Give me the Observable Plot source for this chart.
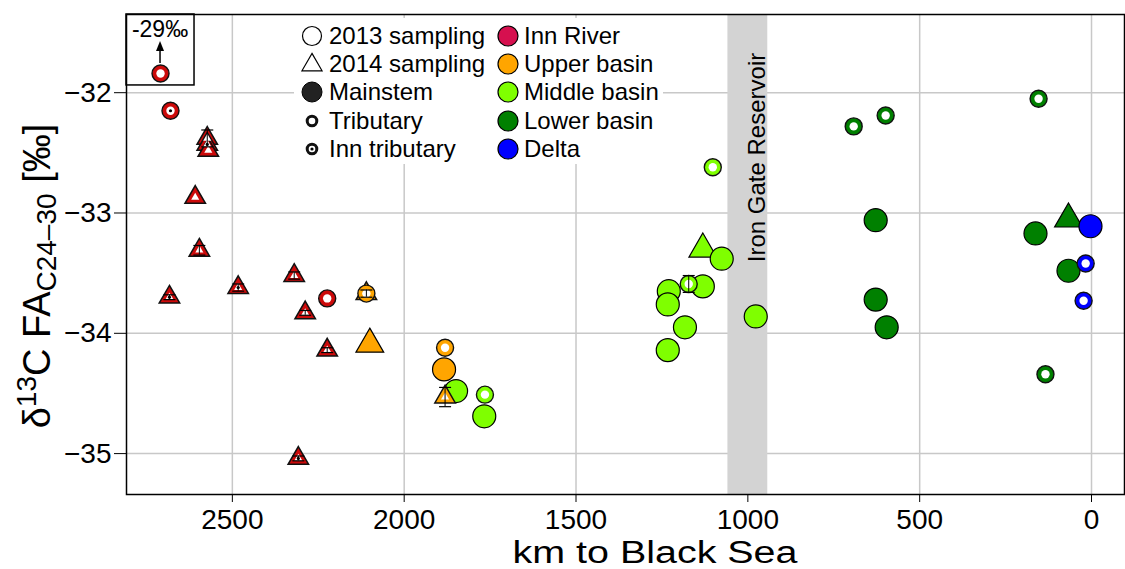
<!DOCTYPE html>
<html><head><meta charset="utf-8">
<script src="https://cdn.jsdelivr.net/npm/d3@7"></script>
<script src="https://cdn.jsdelivr.net/npm/@observablehq/plot@0.6"></script>
<style>html,body{margin:0;padding:0;background:#fff;} #chart{width:1125px;height:569px;}</style>
</head><body><div id="chart"></div>
<script>
// ---- data ----
const regions = ["Inn River","Upper basin","Middle basin","Lower basin","Delta"];
const regionColors = ["#CC0A0A","#FFA500","#7FFF00","#008000","#0000FF"];
const legendColors = ["#D6104F","#FFA500","#7FFF00","#008000","#0000FF"];
const xTicks = [2500,2000,1500,1000,500,0];
const yTicks = [-32,-33,-34,-35];
const ironGate = [942,1058];
const ironGateLabel = "Iron Gate Reservoir";
const outlierLabel = "-29‰"; // first point is an off-scale value (−29 ‰), shown in the inset

const km    = [2709,2680,2573,2573,2570,2608,2596,2683,2483,2320,2288,2224,2224,2308,
               2110,2110,2100,1881,1884,1881,
               1849,1765,1767,1102,1131,1076,1172,1131,1230,1233,1183,1233,977,
               692,599,154,628,628,596,163,67,67,134,
               3,17,23];
const d13C  = [-31.84,-32.15,-32.38,-32.43,-32.48,-32.87,-33.31,-33.70,-33.62,-33.52,-33.83,-33.71,-34.14,-35.04,
               -33.67,-33.67,-34.09,-34.12,-34.30,-34.53,
               -34.48,-34.51,-34.69,-32.62,-33.30,-33.38,-33.59,-33.61,-33.65,-33.76,-33.95,-34.14,-33.86,
               -32.28,-32.19,-32.05,-33.06,-33.72,-33.95,-33.17,-33.05,-33.48,-34.34,
               -33.11,-33.42,-33.73];
const year  = [2013,2013,2014,2014,2014,2014,2014,2014,2014,2014,2014,2013,2014,2014,
               2013,2014,2014,2013,2013,2014,
               2013,2013,2013,2013,2014,2013,2013,2013,2013,2013,2013,2013,2013,
               2013,2013,2013,2013,2013,2013,2013,2014,2013,2013,
               2013,2013,2013];
// M = mainstem, T = tributary, I = Inn tributary
const kind  = ["T","I","T","I","T","T","T","I","I","T","T","T","T","I",
               "T","T","M","T","M","T",
               "M","T","M","T","M","M","T","M","M","M","M","M","M",
               "T","T","T","M","M","M","M","M","M","T",
               "M","T","T"];
const region= [0,0,0,0,0,0,0,0,0,0,0,0,0,0,
               1,1,1,1,1,1,
               2,2,2,2,2,2,2,2,2,2,2,2,2,
               3,3,3,3,3,3,3,3,3,3,
               4,4,4];
const sd    = [0,0,0.07,0,0,0,0.04,0.02,0.03,0.03,0.02,0,0.02,0.02,
               0,0.03,0,0,0,0.08,
               0,0,0,0,0,0,0.07,0,0,0,0,0,0,
               0,0,0,0,0,0,0,0,0,0,
               0,0,0];

const rows = km.map((k,i)=>({km:k, v:d13C[i], year:year[i], kind:kind[i], region:regions[region[i]], sd:sd[i]}));
const M14 = rows.filter(d=>d.kind==="M"&&d.year===2014);
const M13 = rows.filter(d=>d.kind==="M"&&d.year===2013);
const T14 = rows.filter(d=>d.kind!=="M"&&d.year===2014);
const T13 = rows.filter(d=>d.kind!=="M"&&d.year===2013);
const inn = rows.filter(d=>d.kind==="I");
const errRows = rows.filter(d=>d.sd>0);
const cap = {draw(ctx,size){const w=Math.sqrt(size/Math.PI); ctx.moveTo(-w,0); ctx.lineTo(w,0);}};

const svg = Plot.plot({
  width:1125, height:569,
  marginLeft:126, marginRight:1, marginTop:14, marginBottom:75,
  style:{fontFamily:"'Liberation Sans', Arial, Helvetica, sans-serif", fontSize:"28px", background:"white", color:"black"},
  x:{domain:[2808,-96], ticks:xTicks, tickFormat:d=>String(d), label:null, tickSize:8, tickPadding:7},
  y:{domain:[-35.34,-31.35], ticks:yTicks, tickFormat:d=>"\u2212"+Math.abs(d), label:null, tickSize:12, tickPadding:3},
  color:{domain:regions, range:regionColors},
  marks:[
    Plot.ruleX(xTicks,{stroke:"#c8c8c8", strokeWidth:1.5}),
    Plot.ruleY(yTicks,{stroke:"#c8c8c8", strokeWidth:1.5}),
    Plot.rect([ironGate],{x1:d=>d[0], x2:d=>d[1], fill:"#d3d3d3"}),
    Plot.text([{label:ironGateLabel, km:(ironGate[0]+ironGate[1])/2}],{x:"km", text:"label", frameAnchor:"top", dy:143, dx:9, rotate:-90, fontSize:24, textAnchor:"middle", lineAnchor:"middle", fill:"black"}),
    Plot.dot(M14,{x:"km", y:"v", symbol:"triangle", r:10.3, fill:"region", stroke:"black", strokeWidth:1.2}),
    Plot.dot(M13,{x:"km", y:"v", r:11.5, fill:"region", stroke:"black", strokeWidth:1.2}),
    Plot.dot(T14,{x:"km", y:"v", symbol:"triangle", r:7.6, fill:"region", stroke:"#111", strokeWidth:1.5}),
    Plot.dot(T14,{x:"km", y:"v", symbol:"triangle", r:3, fill:"white"}),
    Plot.dot(T13,{x:"km", y:"v", r:8.5, fill:"region", stroke:"#111", strokeWidth:1.4}),
    Plot.dot(T13,{x:"km", y:"v", r:4.2, fill:"white"}),
    Plot.dot(inn,{x:"km", y:"v", r:1.6, fill:"black"}),
    Plot.ruleX(errRows,{x:"km", y1:d=>d.v-d.sd, y2:d=>d.v+d.sd, stroke:"black", strokeWidth:1}),
    Plot.dot(errRows,{x:"km", y:d=>d.v+d.sd, symbol:cap, r:6, stroke:"black", strokeWidth:1.2}),
    Plot.dot(errRows,{x:"km", y:d=>d.v-d.sd, symbol:cap, r:6, stroke:"black", strokeWidth:1.2}),
    Plot.frame({stroke:"black", strokeWidth:1.5})
  ]
});
document.getElementById("chart").appendChild(svg);

const xs = svg.scale("x"), ys = svg.scale("y");
const s = d3.select(svg);
const FONT = "'Liberation Sans', Arial, Helvetica, sans-serif";

// inset for the off-scale point
const o = rows[0];
const px = xs.apply(o.km), py = ys.apply(o.v);
const ig = s.append("g");
ig.append("rect").attr("x",126).attr("y",14).attr("width",px+34-126).attr("height",py+12-14)
  .attr("fill","none").attr("stroke","black").attr("stroke-width",1.5);
ig.append("line").attr("x1",px).attr("x2",px).attr("y1",py-10).attr("y2",py-29).attr("stroke","black").attr("stroke-width",1.5);
ig.append("path").attr("d",`M${px},${py-32}L${px-4},${py-22}L${px+4},${py-22}Z`).attr("fill","black");
ig.append("text").attr("x",px).attr("y",py-36).attr("text-anchor","middle").attr("font-size",23)
  .attr("font-family",FONT).text(outlierLabel);

// legend
const lg = s.append("g").attr("font-family",FONT).attr("font-size",24).attr("text-anchor","start");
lg.append("rect").attr("x",294).attr("y",18).attr("width",369).attr("height",146).attr("fill","white");
const rowsY = [36,64,92,121,149];
const col1 = [["2013 sampling","oc"],["2014 sampling","ot"],["Mainstem","fc"],["Tributary","ring"],["Inn tributary","ringdot"]];
col1.forEach(([label,sym],i)=>{
  const y = rowsY[i], x = 312;
  if (sym==="oc") lg.append("circle").attr("cx",x).attr("cy",y).attr("r",9.5).attr("fill","white").attr("stroke","black").attr("stroke-width",1.2);
  if (sym==="ot") lg.append("path").attr("transform",`translate(${x},${y+1})`).attr("d",d3.symbol(d3.symbolTriangle,175)()).attr("fill","white").attr("stroke","black").attr("stroke-width",1.2);
  if (sym==="fc") lg.append("circle").attr("cx",x).attr("cy",y).attr("r",10).attr("fill","#222").attr("stroke","black");
  if (sym==="ring"||sym==="ringdot") lg.append("circle").attr("cx",x).attr("cy",y).attr("r",4.8).attr("fill","white").attr("stroke","#111").attr("stroke-width",3);
  if (sym==="ringdot") lg.append("circle").attr("cx",x).attr("cy",y).attr("r",1.6).attr("fill","black");
  lg.append("text").attr("x",329).attr("y",y+8).attr("text-anchor","start").text(label);
});
regions.forEach((r,i)=>{
  const y = rowsY[i];
  lg.append("circle").attr("cx",508).attr("cy",y).attr("r",10).attr("fill",legendColors[i]).attr("stroke","black").attr("stroke-width",1.2);
  lg.append("text").attr("x",524).attr("y",y+8).attr("text-anchor","start").text(r);
});

// axis titles
s.append("text").attr("x",655).attr("y",563).attr("text-anchor","middle").attr("font-family",FONT)
  .attr("font-size",31).attr("textLength",285).attr("lengthAdjust","spacingAndGlyphs").text("km to Black Sea");
const yt = s.append("text").attr("transform","translate(50,276) rotate(-90)").attr("text-anchor","middle")
  .attr("font-family",FONT).attr("font-size",38);
yt.append("tspan").text("δ");
yt.append("tspan").attr("font-size",28).attr("dy",-14).text("13");
yt.append("tspan").attr("dy",14).text("C FA");
yt.append("tspan").attr("font-size",28).attr("dy",6).text("C24–30");
yt.append("tspan").attr("dy",-6).text(" [‰]");
</script></body></html>
